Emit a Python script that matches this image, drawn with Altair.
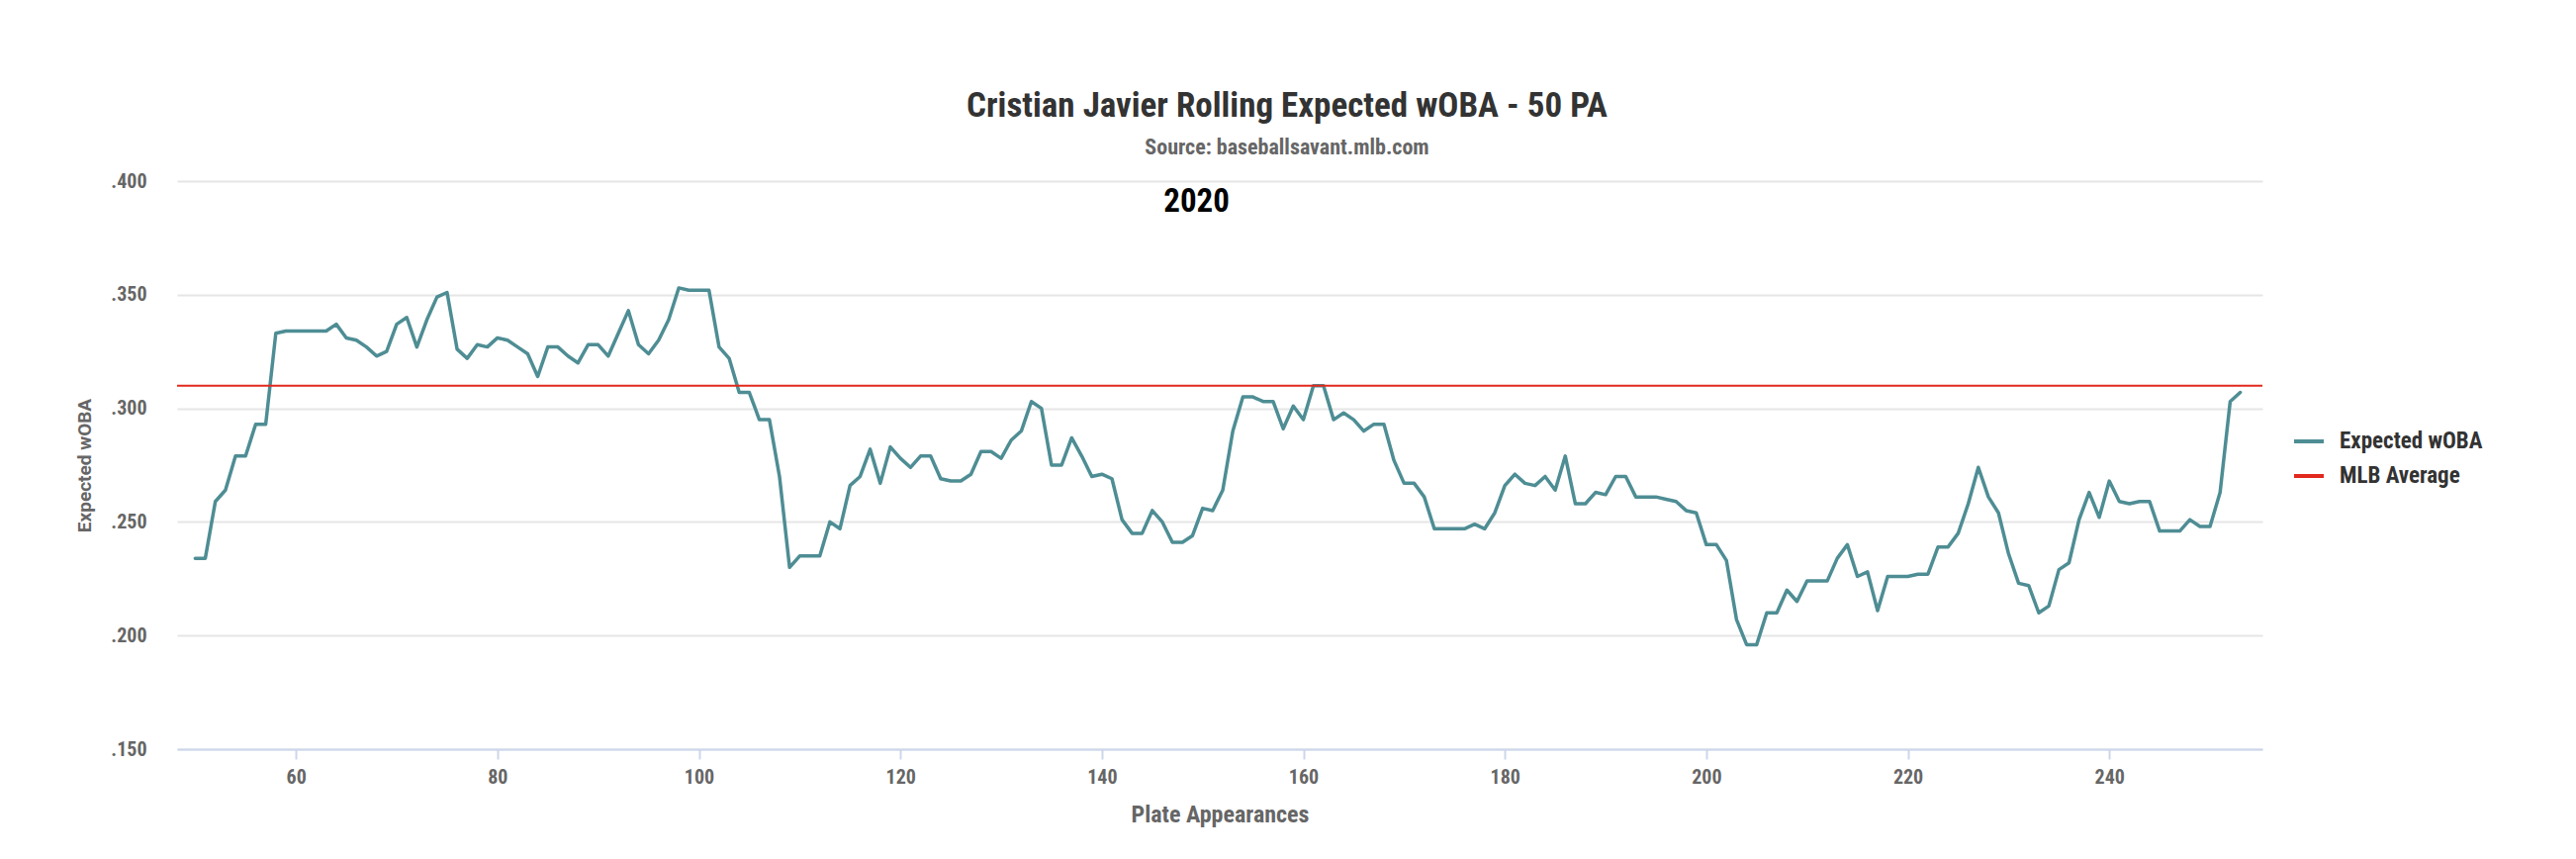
import altair as alt
import pandas as pd

# rolling 50 PA expected wOBA, plate appearance 50..253
pa_start = 50
xwoba_50_99 = [
    .234, .234, .259, .264, .279, .279, .293, .293, .333, .334,
    .334, .334, .334, .334, .337, .331, .330, .327, .323, .325,
    .337, .340, .327, .339, .349, .351, .326, .322, .328, .327,
    .331, .330, .327, .324, .314, .327, .327, .323, .320, .328,
    .328, .323, .333, .343, .328, .324, .330, .339, .353, .352,
]
xwoba_100_149 = [
    .352, .352, .327, .322, .307, .307, .295, .295, .270, .230,
    .235, .235, .235, .250, .247, .266, .270, .282, .267, .283,
    .278, .274, .279, .279, .269, .268, .268, .271, .281, .281,
    .278, .286, .290, .303, .300, .275, .275, .287, .279, .270,
    .271, .269, .251, .245, .245, .255, .250, .241, .241, .244,
]
xwoba_150_199 = [
    .256, .255, .264, .290, .305, .305, .303, .303, .291, .301,
    .295, .310, .310, .295, .298, .295, .290, .293, .293, .277,
    .267, .267, .261, .247, .247, .247, .247, .249, .247, .254,
    .266, .271, .267, .266, .270, .264, .279, .258, .258, .263,
    .262, .270, .270, .261, .261, .261, .260, .259, .255, .254,
]
xwoba_200_253 = [
    .240, .240, .233, .207, .196, .196, .210, .210, .220, .215,
    .224, .224, .224, .234, .240, .226, .228, .211, .226, .226,
    .226, .227, .227, .239, .239, .245, .258, .274, .261, .254,
    .236, .223, .222, .210, .213, .229, .232, .251, .263, .252,
    .268, .259, .258, .259, .259, .246, .246, .246, .251, .248,
    .248, .263, .303, .307,
]
xwoba = xwoba_50_99 + xwoba_100_149 + xwoba_150_199 + xwoba_200_253
pa = list(range(pa_start, pa_start + len(xwoba)))

mlb_average = [0.310]
season_label = ["2020"]
season_label_pa = [149.4]
season_label_y = [0.391]

x_ticks = [60, 80, 100, 120, 140, 160, 180, 200, 220, 240]
y_ticks = [0.15, 0.20, 0.25, 0.30, 0.35, 0.40]

TEAL = "#4e8d94"
RED = "#e2291d"
COND = "'Roboto Condensed', 'Liberation Sans Narrow', 'DejaVu Sans Condensed', 'Arial Narrow', sans-serif"

df_line = pd.DataFrame({"pa": pa, "xwoba": xwoba, "serie": "Expected wOBA"})
df_avg = pd.DataFrame({"xwoba": mlb_average, "serie": ["MLB Average"]})
df_lbl = pd.DataFrame({"pa": season_label_pa, "xwoba": season_label_y, "txt": season_label})

x_scale = alt.Scale(domain=[48.2, 255.2], nice=False, zero=False)
y_scale = alt.Scale(domain=[0.15, 0.40], nice=False, zero=False)
color = alt.Color(
    "serie:N",
    scale=alt.Scale(domain=["Expected wOBA", "MLB Average"], range=[TEAL, RED]),
    legend=alt.Legend(
        title=None, orient="none", legendX=2138, legendY=246,
        symbolType="stroke", symbolSize=900, symbolStrokeWidth=4,
        labelFont=COND, labelFontSize=23, labelFontWeight="bold",
        labelColor="#333333", labelOffset=14, rowPadding=6,
    ),
)

line = alt.Chart(df_line).mark_line(strokeWidth=3.5, strokeJoin="round", strokeCap="round").encode(
    x=alt.X("pa:Q", scale=x_scale, title="Plate Appearances",
            axis=alt.Axis(values=x_ticks, grid=False, domainColor="#ccd6eb", domainWidth=2,
                          tickColor="#ccd6eb", tickWidth=2, tickSize=10, labelPadding=8,
                          titlePadding=16, titleFontSize=24)),
    y=alt.Y("xwoba:Q", scale=y_scale, title="Expected wOBA",
            axis=alt.Axis(values=y_ticks, labelExpr="substring(format(datum.value, '.3f'), 1)",
                          domain=False, ticks=False, tickSize=0, labelPadding=31,
                          gridColor="#e6e6e6", gridWidth=2, titlePadding=16,
                          titleFont="Roboto", titleFontSize=19)),
    color=color,
)

avg = alt.Chart(df_avg).mark_rule(strokeWidth=2).encode(
    y=alt.Y("xwoba:Q", scale=y_scale),
    color=color,
)

label = alt.Chart(df_lbl).mark_text(font=COND, fontSize=33, fontWeight="bold", color="#000000").encode(
    x=alt.X("pa:Q", scale=x_scale),
    y=alt.Y("xwoba:Q", scale=y_scale),
    text="txt:N",
)

chart = (line + avg + label).properties(
    width=2108,
    height=574,
    autosize=alt.AutoSizeParams(type="none"),
    padding={"left": 171, "top": 175, "right": 309, "bottom": 103},
    title=alt.TitleParams(
        text="Cristian Javier Rolling Expected wOBA - 50 PA",
        subtitle="Source: baseballsavant.mlb.com",
        font=COND, fontSize=35, fontWeight="bold", color="#333333",
        subtitleFont=COND, subtitleFontSize=22, subtitleFontWeight="bold",
        subtitleColor="#666666", subtitlePadding=14,
        anchor="middle", dx=68, offset=13,
    ),
).configure_view(
    stroke=None
).configure_axis(
    labelFont=COND, labelFontSize=20, labelFontWeight="bold", labelColor="#666666",
    titleFont=COND, titleFontSize=20, titleFontWeight="bold", titleColor="#666666",
)

chart.save("out.html", embed_options={"renderer": "svg", "actions": False})
